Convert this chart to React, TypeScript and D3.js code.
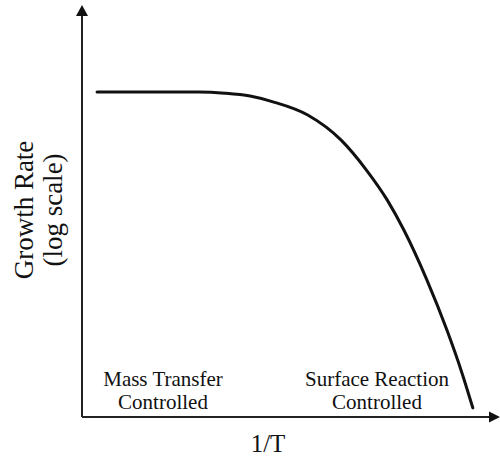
import React from 'react'
import * as d3 from 'd3'

// schematic curve: 1/T (arbitrary units) vs log growth rate (arbitrary units)
const invT = [3.6, 28, 34.2, 40.2, 45.7, 54, 62, 68, 73, 77, 82.5, 87.3, 90.9, 93.5]
const logRate = [78.9, 78.9, 78.6, 77.9, 76.5, 73.3, 67.2, 60, 52.7, 45.4, 33.3, 21.1, 10.7, 2.2]

const yTitle = ['Growth Rate', '(log scale)']
const xTitle = '1/T'
const regionLeft = ['Mass Transfer', 'Controlled']
const regionRight = ['Surface Reaction', 'Controlled']

const W = 500
const H = 457
const FONT = '"Liberation Serif", "Times New Roman", serif'

const App: React.FC = () => {
    const margin = { top: 5, right: 0, bottom: 40, left: 82 }

    const x = d3.scaleLinear().domain([0, 100]).range([margin.left, W - margin.right])
    const y = d3.scaleLinear().domain([0, 100]).range([H - margin.bottom, margin.top])

    const pts = invT.map((v, i) => [v, logRate[i]] as [number, number])
    const line = d3
        .line<[number, number]>()
        .x((d) => x(d[0]))
        .y((d) => y(d[1]))
        .curve(d3.curveMonotoneX)

    const x0 = x(0)
    const y0 = y(0)
    const xEnd = x(100)
    const yEnd = y(100)

    const txt = { fontFamily: FONT, fill: '#111' }

    return (
        <svg
            width={W}
            height={H}
            style={{ position: 'absolute', left: 0, top: 0, background: '#fff' }}
        >
            {/* axes */}
            <line x1={x0} y1={y0} x2={x0} y2={yEnd + 8} stroke="#222" strokeWidth={2} />
            <line x1={x0} y1={y0} x2={xEnd - 8} y2={y0} stroke="#222" strokeWidth={2} />
            <path d={`M${x0},${yEnd} L${x0 - 6},${yEnd + 11} L${x0 + 6},${yEnd + 11} Z`} fill="#111" />
            <path d={`M${xEnd},${y0} L${xEnd - 11},${y0 - 5.5} L${xEnd - 11},${y0 + 5.5} Z`} fill="#111" />

            {/* curve */}
            <path d={line(pts) || ''} fill="none" stroke="#111" strokeWidth={3} strokeLinecap="round" />

            {/* y title */}
            <g transform="translate(33,210) rotate(-90)">
                <text x={0} y={0} textAnchor="middle" fontSize={27} style={txt}>
                    {yTitle[0]}
                </text>
                <text x={0} y={29} textAnchor="middle" fontSize={27} style={txt}>
                    {yTitle[1]}
                </text>
            </g>

            {/* x title */}
            <text x={268} y={452} textAnchor="middle" fontSize={25} style={txt}>
                {xTitle}
            </text>

            {/* region labels */}
            {regionLeft.map((t, i) => (
                <text key={'l' + i} x={163} y={386 + i * 23} textAnchor="middle" fontSize={21} style={txt}>
                    {t}
                </text>
            ))}
            {regionRight.map((t, i) => (
                <text key={'r' + i} x={377} y={386 + i * 23} textAnchor="middle" fontSize={21} style={txt}>
                    {t}
                </text>
            ))}
        </svg>
    )
}

export default App
